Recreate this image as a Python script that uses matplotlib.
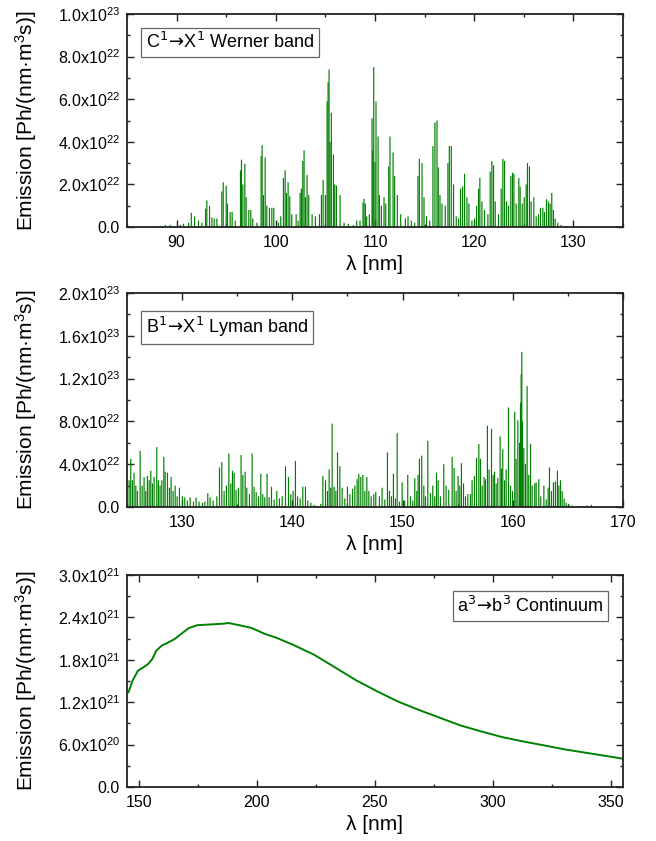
import numpy as np
import matplotlib
matplotlib.use("Agg")
import matplotlib.pyplot as plt
from matplotlib.ticker import FixedLocator, FixedFormatter, MultipleLocator

plt.rcParams['font.family'] = ['Liberation Sans', 'DejaVu Sans']
plt.rcParams['mathtext.fontset'] = 'custom'
plt.rcParams['mathtext.rm'] = 'Liberation Sans'
plt.rcParams['mathtext.it'] = 'Liberation Sans:italic'
plt.rcParams['mathtext.bf'] = 'Liberation Sans:bold'

# ---------------- data: Werner band (C1 -> X1), line wavelength [nm] / emission [1e22] -------------
werner_wl = [87.85, 88.36, 88.86, 89.36, 90.37, 90.70, 91.21, 91.48, 91.81, 92.21, 92.55, 92.92, 93.05,
             93.32, 93.56, 93.79, 94.06, 94.56, 94.70, 95.00, 95.13, 95.40, 95.60, 95.91, 96.44, 96.54,
             96.68, 96.88, 97.01, 97.28, 97.48, 97.68, 98.09, 98.52, 98.62, 98.76, 98.93, 99.09, 99.36,
             99.60, 99.80, 100.27, 100.50, 100.77, 100.94, 101.07, 101.24, 101.41, 101.61, 102.05, 102.25,
             102.45, 102.58, 102.72, 102.85, 102.99, 103.15, 103.32, 103.66, 103.99, 104.40, 104.60, 104.77,
             105.00, 105.17, 105.27, 105.37, 105.47, 105.60, 105.81, 105.94, 106.11, 106.48, 106.88, 107.32,
             107.82, 108.15, 108.49, 108.79, 108.89, 109.03, 109.16, 109.43, 109.70, 109.77, 109.87, 110.00,
             110.10, 110.31, 110.44, 110.64, 110.91, 111.08, 111.38, 111.51, 111.82, 111.98, 112.25, 112.59,
             113.06, 113.33, 113.66, 114.00, 114.33, 114.47, 114.74, 114.94, 115.20, 115.51, 115.84, 116.04,
             116.25, 116.38, 116.55, 116.75, 117.08, 117.35, 117.49, 117.69, 117.92, 118.19, 118.43, 118.63,
             118.83, 119.03, 119.27, 119.47, 119.77, 120.04, 120.24, 120.44, 120.57, 120.78, 121.04, 121.38,
             121.61, 121.78, 121.95, 122.12, 122.45, 122.72, 122.89, 123.06, 123.26, 123.46, 123.69, 123.86,
             124.00, 124.23, 124.50, 124.63, 124.84, 125.04, 125.24, 125.37, 125.57, 125.74, 126.01, 126.25,
             126.48, 126.68, 126.92, 127.08, 127.29, 127.49, 127.65, 127.82, 127.99, 128.16, 128.43, 128.76,
             129.27, 130.61, 131.11]
werner_h = [0.05, 0.05, 0.1, 0.1, 0.1, 0.15, 0.2, 0.67, 0.5, 0.3, 0.2, 0.86, 1.25,
            1.0, 0.45, 0.4, 0.4, 1.67, 2.1, 1.94, 1.1, 0.7, 0.7, 0.3, 2.66, 3.16,
            2.0, 2.97, 1.4, 0.8, 0.8, 0.4, 0.2, 3.33, 3.84, 1.5, 3.27, 1.0, 0.9,
            0.9, 0.9, 0.2, 0.5, 2.3, 2.66, 1.6, 2.1, 1.44, 0.6, 0.6, 0.3,
            1.6, 1.8, 3.1, 3.6, 1.4, 2.45, 1.5, 0.6, 0.5, 0.6, 1.5, 2.2,
            1.5, 5.9, 6.8, 7.4, 4.0, 5.36, 3.4, 2.0, 1.95, 1.5, 0.2, 0.15,
            0.1, 0.3, 0.3, 1.14, 1.33, 1.1, 0.5, 0.6, 5.1, 3.6, 7.5, 3.05,
            5.9, 4.25, 1.5, 1.0, 1.4, 1.1, 2.84, 4.25, 3.5, 2.4, 1.5, 0.6,
            0.4, 0.5, 0.3, 0.2, 2.4, 3.2, 3.0, 1.4, 0.5, 0.3, 3.8, 4.9,
            5.0, 2.8, 1.5, 1.1, 1.0, 3.0, 3.8, 3.8, 2.0, 0.5, 0.4, 1.8,
            1.9, 2.5, 1.4, 1.1, 0.3, 0.4, 1.0, 1.8, 2.3, 1.2, 0.8, 0.6,
            2.6, 3.1, 2.9, 1.2, 0.6, 1.8, 3.2, 3.1, 1.2, 1.0, 2.4, 2.55,
            2.5, 1.1, 2.3, 1.9, 1.1, 1.4, 2.0, 3.0, 2.85, 1.2, 1.4, 0.5,
            0.6, 0.9, 0.9, 0.7, 1.3, 1.2, 1.1, 1.6, 0.8, 0.4, 0.2, 0.1,
            0.05, 0.05, 0.03]

# ---------------- data: Lyman band (B1 -> X1), line wavelength [nm] / emission [1e22] ---------------
lyman_wl = [125.19, 125.34, 125.49, 125.64, 125.80, 125.95, 126.19, 126.37, 126.55, 126.70, 126.85, 127.01,
            127.16, 127.31, 127.46, 127.70, 127.85, 128.00, 128.16, 128.34, 128.46, 128.67, 128.85, 129.00,
            129.18, 129.37, 129.55, 129.76, 130.03, 130.24, 130.48, 130.73, 131.03, 131.27, 131.54, 131.85,
            132.06, 132.33, 132.54, 132.81, 133.15, 133.39, 133.60, 133.81, 134.02, 134.24, 134.42, 134.57,
            134.72, 134.90, 135.11, 135.35, 135.51, 135.72, 135.87, 136.11, 136.35, 136.53, 136.72, 136.93,
            137.14, 137.32, 137.50, 137.71, 137.90, 138.11, 138.35, 138.59, 138.83, 139.08, 139.38, 139.65,
            139.86, 140.07, 140.28, 140.47, 140.71, 140.95, 141.19, 141.40, 141.68, 141.98, 142.28, 142.58,
            142.77, 143.01, 143.19, 143.34, 143.49, 143.61, 143.79, 143.95, 144.10, 144.31, 144.52, 144.76,
            145.00, 145.22, 145.46, 145.67, 145.88, 146.03, 146.21, 146.40, 146.58, 146.76, 146.94, 147.15,
            147.39, 147.57, 147.90, 148.14, 148.39, 148.63, 148.81, 148.99, 149.17, 149.35, 149.51, 149.72,
            149.96, 150.20, 150.47, 150.72, 150.93, 151.11, 151.29, 151.41, 151.53, 151.74, 151.93, 152.08,
            152.29, 152.53, 152.74, 152.92, 153.08, 153.23, 153.44, 153.74, 153.95, 154.19, 154.50, 154.68,
            154.86, 155.04, 155.19, 155.34, 155.53, 155.71, 155.92, 156.16, 156.31, 156.52, 156.71, 156.92,
            157.07, 157.22, 157.40, 157.52, 157.70, 157.85, 158.07, 158.22, 158.34, 158.49, 158.64, 158.85,
            158.97, 159.09, 159.25, 159.40, 159.61, 159.79, 159.97, 160.18, 160.30, 160.46, 160.61, 160.70,
            160.76, 160.82, 160.88, 161.00, 161.15, 161.30, 161.45, 161.61, 161.76, 161.99, 162.12, 162.36,
            162.54, 162.82, 163.03, 163.21, 163.33, 163.51, 163.69, 163.87, 164.05, 164.18, 164.33, 164.48,
            164.66, 164.84, 165.08, 165.39, 165.99, 166.44, 166.75, 167.14, 167.50]
lyman_h = [2.5, 4.5, 2.5, 3.2, 2.0, 1.5, 5.25, 2.0, 2.8, 1.5, 2.9, 2.5,
           3.4, 2.2, 2.8, 5.6, 2.5, 2.0, 2.5, 4.7, 3.3, 3.2, 1.8, 2.8,
           1.5, 2.0, 1.0, 1.8, 1.0, 0.9, 0.6, 0.9, 0.5, 0.9, 0.5, 0.4,
           0.5, 1.3, 0.9, 0.6, 1.0, 3.7, 4.2, 1.5, 2.0, 5.0, 2.2, 3.4,
           3.2, 1.6, 1.8, 4.85, 3.0, 3.3, 1.8, 1.2, 5.0, 1.9, 1.4, 1.0,
           3.1, 1.2, 0.9, 3.1, 0.9, 1.9, 0.7, 1.5, 0.8, 1.0, 3.8, 2.8,
           1.2, 1.5, 4.3, 1.0, 0.8, 1.9, 1.9, 0.6, 0.4, 0.2, 0.1, 0.3,
           2.9, 2.5, 1.5, 3.5, 1.8, 7.8, 1.9, 1.5, 5.1, 3.8, 1.8, 0.8,
           1.9, 1.2, 1.7, 2.0, 2.6, 3.1, 2.8, 3.0, 1.5, 2.8, 1.5, 1.0,
           1.2, 1.4, 1.0, 1.8, 0.7, 5.1, 1.5, 1.0, 3.1, 0.8, 6.9, 0.5,
           2.3, 0.6, 3.0, 1.0, 0.6, 2.7, 1.5, 3.0, 4.5, 4.8, 2.0, 1.0,
           6.2, 1.3, 2.0, 1.0, 3.2, 2.5, 1.0, 4.0, 2.0, 1.6, 4.7, 3.65,
           1.5, 2.9, 2.0, 4.1, 2.2, 1.0, 1.2, 1.2, 2.5, 2.9, 4.6, 5.9,
           4.5, 2.0, 2.8, 2.6, 7.6, 3.5, 7.3, 3.0, 3.3, 2.2, 2.7, 6.6,
           3.6, 5.4, 2.5, 3.5, 9.3, 2.0, 1.5, 8.9, 4.5, 8.1, 6.0, 9.75,
           12.4, 14.5, 8.0, 5.5, 4.0, 11.3, 3.0, 5.9, 2.0, 2.2, 2.3, 2.6,
           1.0, 2.0, 0.7, 1.8, 3.7, 1.5, 2.3, 2.4, 3.4, 2.0, 2.5, 1.5,
           0.8, 0.4, 0.3, 0.15, 0.1, 0.1, 0.15, 0.2, 0.05]

# ---------------- data: a3 -> b3 continuum, wavelength [nm] / emission [1e21] ----------------------
cont_wl = [145.6, 147.3, 149.6, 151.8, 153.9, 155.7, 157.4, 159.7, 162.4, 165.0, 167.7, 171.2, 174.8,
           180.1, 185.4, 188.0, 192.5, 197.8, 203.1, 208.4, 215.5, 224.3, 233.2, 242.0, 250.9, 259.7,
           268.6, 277.4, 286.3, 295.1, 304.0, 312.8, 321.7, 330.5, 339.4, 348.2, 355.0]
cont_v = [1.34, 1.50, 1.645, 1.69, 1.74, 1.81, 1.93, 2.00, 2.045, 2.09, 2.16, 2.25, 2.29,
          2.30, 2.31, 2.32, 2.29, 2.25, 2.17, 2.11, 2.01, 1.87, 1.69, 1.51, 1.354, 1.21,
          1.09, 0.98, 0.87, 0.785, 0.705, 0.644, 0.588, 0.531, 0.484, 0.437, 0.40]

# ---------------- axis ticks / labels ----------------
p1_yticks = [0, 2e22, 4e22, 6e22, 8e22, 1e23]
p1_ylabels = ['0.0', r'$2.0\mathrm{x}10^{22}$', r'$4.0\mathrm{x}10^{22}$', r'$6.0\mathrm{x}10^{22}$',
              r'$8.0\mathrm{x}10^{22}$', r'$1.0\mathrm{x}10^{23}$']
p2_yticks = [0, 4e22, 8e22, 1.2e23, 1.6e23, 2e23]
p2_ylabels = ['0.0', r'$4.0\mathrm{x}10^{22}$', r'$8.0\mathrm{x}10^{22}$', r'$1.2\mathrm{x}10^{23}$',
              r'$1.6\mathrm{x}10^{23}$', r'$2.0\mathrm{x}10^{23}$']
p3_yticks = [0, 6e20, 1.2e21, 1.8e21, 2.4e21, 3e21]
p3_ylabels = ['0.0', r'$6.0\mathrm{x}10^{20}$', r'$1.2\mathrm{x}10^{21}$', r'$1.8\mathrm{x}10^{21}$',
              r'$2.4\mathrm{x}10^{21}$', r'$3.0\mathrm{x}10^{21}$']

GREEN = '#008000'
W, H = 656, 841
fig = plt.figure(figsize=(W / 100, H / 100), dpi=100)


def make_axes(top_px, bottom_px, left_px=127, right_px=623):
    return fig.add_axes([left_px / W, 1 - bottom_px / H, (right_px - left_px) / W, (bottom_px - top_px) / H])


ax1 = make_axes(14, 227)
ax2 = make_axes(293, 507)
ax3 = make_axes(575, 787)

ax1.vlines(werner_wl, 0, np.array(werner_h) * 1e22, color=GREEN, lw=0.85, snap=False)
ax2.vlines(lyman_wl, 0, np.array(lyman_h) * 1e22, color=GREEN, lw=0.85, snap=False)
ax3.plot(cont_wl, np.array(cont_v) * 1e21, color=GREEN, lw=1.4)

ax1.set_xlim(85, 135)
ax1.set_ylim(0, 1e23)
ax2.set_xlim(125, 170)
ax2.set_ylim(0, 2e23)
ax3.set_xlim(145, 355)
ax3.set_ylim(0, 3e21)

setups = [
    (ax1, p1_yticks, p1_ylabels, 1e22, 10, 5),
    (ax2, p2_yticks, p2_ylabels, 2e22, 10, 5),
    (ax3, p3_yticks, p3_ylabels, 3e20, 50, 25),
]
for ax, yt, yl, yminor, xmaj, xmin in setups:
    ax.yaxis.set_major_locator(FixedLocator(yt))
    ax.yaxis.set_major_formatter(FixedFormatter(yl))
    ax.yaxis.set_minor_locator(MultipleLocator(yminor))
    ax.xaxis.set_major_locator(MultipleLocator(xmaj))
    ax.xaxis.set_minor_locator(MultipleLocator(xmin))
    ax.tick_params(which='both', direction='in', top=True, right=True, width=1.0, color='#222222')
    ax.tick_params(which='major', length=5)
    ax.tick_params(which='minor', length=2.5)
    ax.tick_params(axis='x', which='major', labelsize=11.5, pad=6)
    ax.tick_params(axis='y', which='major', labelsize=11.5, pad=5)
    for s in ax.spines.values():
        s.set_linewidth(1.3)
        s.set_color('#222222')
    ax.set_xlabel('λ [nm]', fontsize=15, labelpad=3)
    ax.set_ylabel(r'Emission [Ph/(nm·m$^3$s)]', fontsize=15)
    ax.yaxis.set_label_coords(-0.178, 0.5)

box = dict(boxstyle='square,pad=0.25', fc='white', ec='#666666', lw=0.9)
ax1.text(0.038, 0.915, r'C$^1\!\rightarrow\!$X$^1$ Werner band', transform=ax1.transAxes, fontsize=13,
         ha='left', va='top', bbox=box, math_fontfamily='dejavusans')
ax2.text(0.038, 0.897, r'B$^1\!\rightarrow\!$X$^1$ Lyman band', transform=ax2.transAxes, fontsize=13,
         ha='left', va='top', bbox=box, math_fontfamily='dejavusans')
ax3.text(0.961, 0.901, r'a$^3\!\rightarrow\!$b$^3$ Continuum', transform=ax3.transAxes, fontsize=13,
         ha='right', va='top', bbox=box, math_fontfamily='dejavusans')

fig.savefig('out.png', dpi=100)
